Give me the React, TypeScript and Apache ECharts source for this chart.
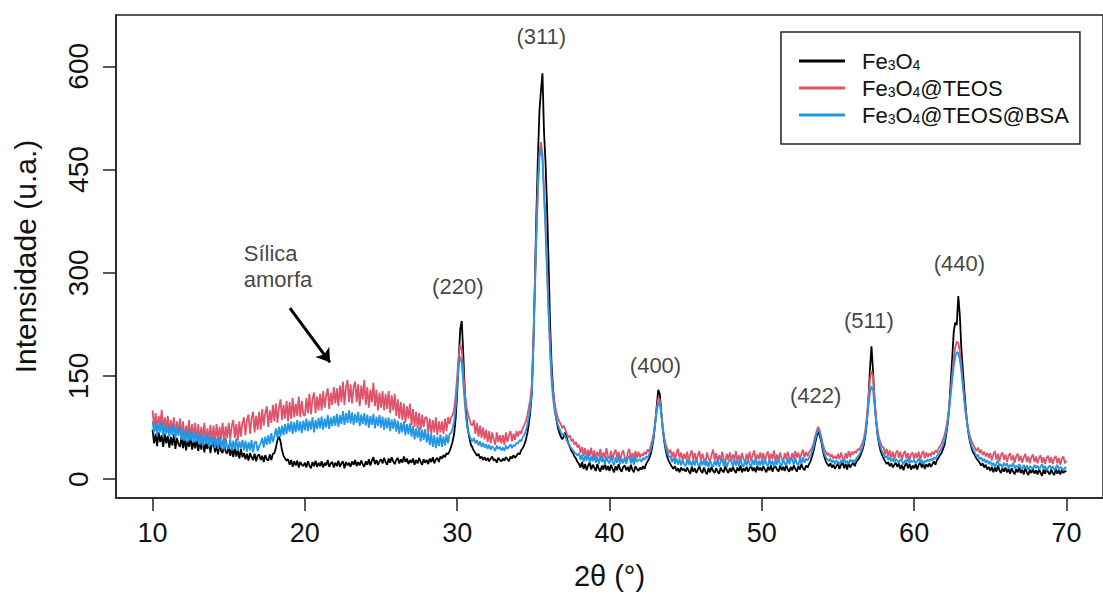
import React, { useEffect, useRef } from "react";
import * as echarts from "echarts";

// 2θ sampling grid: 10.0° to 70.0°, step 0.1°
const twoTheta: number[] = Array.from({ length: 601 }, (_, i) => Math.round((10 + i * 0.1) * 10) / 10);

// Fe3O4 (black)
const fe3o4: number[] = [
  72, 52, 66, 48, 68, 54, 64, 47, 66, 52,
  63, 46, 61, 49, 65, 44, 60, 51, 47, 62,
  45, 59, 42, 57, 47, 61, 43, 56, 45, 58,
  41, 55, 43, 58, 39, 53, 44, 56, 38, 52,
  54, 39, 50, 36, 53, 41, 38, 51, 40, 37,
  49, 34, 45, 32, 47, 33, 43, 30, 44, 32,
  38, 29, 37, 27, 38, 32, 28, 37, 26, 34,
  36, 28, 34, 25, 35, 29, 27, 36, 28, 37,
  38, 46, 57, 62, 55, 42, 34, 30, 27, 29,
  21, 28, 18, 26, 20, 27, 17, 25, 21, 19,
  24, 17, 26, 20, 16, 25, 19, 27, 18, 24,
  19, 26, 17, 24, 20, 28, 18, 23, 25, 17,
  24, 19, 27, 18, 23, 26, 16, 25, 20, 24,
  18, 26, 21, 28, 19, 25, 20, 27, 22, 18,
  26, 21, 29, 20, 27, 32, 22, 28, 21, 26,
  29, 23, 31, 25, 21, 30, 24, 32, 26, 22,
  28, 31, 23, 29, 24, 33, 25, 30, 22, 28,
  24, 30, 21, 28, 23, 31, 25, 21, 29, 24,
  28, 22, 30, 25, 32, 23, 29, 31, 25, 33,
  30, 35, 32, 38, 36, 41, 47, 55, 66, 88,
  125, 175, 218, 230, 182, 128, 93, 72, 60, 50,
  46, 41, 38, 34, 37, 30, 33, 28, 32, 27,
  31, 26, 30, 33, 27, 29, 24, 31, 28, 26,
  30, 27, 32, 29, 26, 33, 30, 35, 31, 34,
  38, 36, 42, 45, 50, 56, 66, 80, 98, 125,
  195, 285, 385, 468, 535, 565, 590, 505, 460, 395,
  315, 225, 165, 130, 106, 88, 76, 68, 62, 58,
  62, 68, 60, 52, 47, 41, 38, 33, 30, 25,
  22, 17, 25, 15, 22, 13, 20, 24, 14, 21,
  17, 12, 22, 15, 11, 20, 14, 23, 13, 19,
  12, 21, 15, 10, 19, 13, 22, 14, 11, 18,
  20, 13, 18, 11, 21, 14, 10, 19, 15, 12,
  17, 14, 19, 15, 22, 26, 30, 36, 46, 60,
  82, 106, 130, 124, 98, 72, 54, 41, 32, 26,
  22, 18, 15, 19, 12, 16, 10, 17, 13, 15,
  11, 17, 12, 8, 18, 11, 16, 9, 14, 19,
  12, 9, 17, 11, 7, 16, 10, 18, 12, 9,
  16, 11, 8, 17, 12, 10, 19, 13, 9, 16,
  11, 18, 13, 9, 17, 12, 20, 10, 16, 12,
  18, 11, 16, 20, 12, 17, 10, 19, 13, 17,
  12, 19, 14, 10, 18, 13, 20, 11, 17, 19,
  14, 11, 20, 13, 18, 12, 21, 14, 11, 18,
  13, 20, 15, 11, 19, 14, 22, 16, 13, 20,
  17, 22, 26, 33, 41, 52, 62, 69, 64, 55,
  43, 33, 26, 22, 19, 23, 17, 21, 15, 19,
  23, 15, 21, 25, 16, 22, 14, 24, 17, 21,
  24, 19, 25, 28, 31, 36, 42, 50, 64, 85,
  115, 160, 193, 158, 116, 86, 64, 50, 41, 35,
  30, 26, 22, 25, 19, 23, 17, 21, 24, 18,
  23, 15, 21, 13, 20, 24, 16, 22, 14, 20,
  16, 22, 14, 21, 25, 17, 23, 15, 22, 18,
  23, 18, 22, 26, 21, 28, 31, 35, 38, 44,
  50, 64, 80, 104, 140, 176, 214, 228, 224, 266,
  238, 190, 158, 128, 100, 78, 62, 51, 43, 38,
  34, 30, 27, 24, 20, 23, 17, 21, 14, 18,
  12, 18, 10, 17, 11, 20, 13, 9, 16, 11,
  17, 10, 15, 8, 16, 11, 7, 15, 10, 17,
  9, 14, 7, 16, 10, 6, 14, 9, 15, 8,
  13, 7, 15, 9, 5, 14, 8, 16, 10, 7,
  14, 9, 6, 15, 8, 13, 7, 14, 9, 12,
  11,
];

// Fe3O4@TEOS (red)
const fe3o4Teos: number[] = [
  100, 76, 96, 72, 92, 78, 101, 70, 90, 74,
  92, 66, 86, 70, 90, 64, 84, 68, 88, 62,
  84, 58, 78, 62, 86, 57, 80, 60, 82, 56,
  80, 55, 76, 58, 82, 54, 74, 57, 79, 53,
  78, 54, 80, 56, 76, 58, 82, 53, 77, 60,
  82, 58, 78, 86, 60, 80, 56, 84, 62, 81,
  90, 64, 86, 94, 66, 88, 98, 68, 92, 72,
  98, 72, 102, 78, 96, 106, 76, 100, 82, 108,
  84, 110, 82, 104, 116, 86, 108, 88, 114, 84,
  112, 88, 118, 90, 110, 92, 120, 90, 114, 94,
  92, 118, 96, 124, 94, 116, 126, 96, 120, 100,
  124, 100, 128, 104, 122, 132, 102, 126, 108, 134,
  110, 132, 106, 136, 112, 142, 108, 134, 144, 112,
  138, 110, 134, 142, 112, 138, 106, 136, 116, 144,
  108, 134, 104, 130, 112, 140, 106, 130, 100, 126,
  104, 128, 100, 124, 102, 128, 96, 122, 100, 124,
  92, 116, 88, 112, 86, 110, 82, 106, 88, 110,
  78, 102, 76, 98, 74, 96, 72, 94, 76, 90,
  90, 68, 88, 66, 86, 68, 90, 64, 84, 68,
  84, 66, 88, 70, 90, 80, 90, 93, 102, 122,
  150, 178, 196, 188, 158, 126, 106, 96, 88, 80,
  78, 86, 66, 82, 62, 78, 60, 75, 58, 72,
  54, 70, 52, 68, 58, 50, 68, 54, 64, 52,
  64, 50, 68, 54, 64, 70, 55, 66, 57, 70,
  62, 70, 66, 74, 78, 84, 92, 104, 116, 138,
  200, 280, 360, 430, 475, 490, 472, 420, 372, 310,
  250, 196, 152, 126, 110, 98, 90, 84, 80, 74,
  78, 72, 66, 60, 64, 55, 58, 50, 54, 46,
  50, 38, 47, 34, 45, 32, 43, 34, 46, 31,
  42, 29, 40, 33, 44, 28, 39, 31, 45, 33,
  30, 41, 28, 38, 43, 31, 40, 27, 37, 42,
  32, 26, 39, 44, 29, 38, 28, 41, 31, 40,
  31, 37, 34, 40, 36, 43, 40, 48, 56, 66,
  84, 102, 118, 116, 96, 76, 60, 50, 44, 38,
  43, 32, 40, 28, 38, 44, 30, 39, 27, 37,
  29, 40, 25, 36, 42, 28, 38, 26, 35, 41,
  27, 37, 29, 24, 39, 30, 26, 36, 43, 28,
  38, 25, 35, 27, 40, 29, 24, 37, 28, 39,
  26, 36, 28, 41, 25, 35, 27, 38, 29, 24,
  37, 28, 40, 26, 35, 42, 27, 36, 29, 39,
  28, 38, 25, 35, 40, 27, 37, 29, 42, 26,
  36, 27, 39, 30, 25, 38, 29, 40, 31, 28,
  38, 29, 41, 31, 39, 28, 37, 43, 32, 40,
  33, 39, 42, 46, 52, 62, 70, 76, 71, 62,
  52, 44, 40, 35, 38, 32, 36, 30, 34, 29,
  37, 29, 39, 31, 26, 38, 30, 41, 32, 40,
  36, 41, 38, 44, 42, 48, 52, 60, 72, 92,
  118, 145, 157, 150, 118, 90, 72, 60, 53, 47,
  46, 36, 44, 33, 42, 31, 40, 29, 38, 42,
  31, 40, 28, 37, 41, 30, 38, 27, 36, 39,
  29, 38, 31, 40, 28, 37, 41, 30, 39, 32,
  38, 33, 40, 36, 42, 39, 45, 48, 52, 58,
  64, 74, 88, 106, 128, 152, 176, 192, 200, 198,
  186, 164, 140, 116, 96, 80, 68, 60, 54, 49,
  45, 41, 46, 38, 43, 35, 40, 33, 38, 31,
  38, 27, 36, 41, 28, 37, 26, 35, 39, 28,
  36, 25, 34, 38, 27, 35, 24, 33, 37, 26,
  34, 24, 32, 37, 25, 33, 23, 32, 36, 25,
  33, 23, 31, 35, 24, 32, 22, 31, 34, 24,
  32, 22, 30, 34, 23, 31, 21, 30, 33, 23,
  27,
];

// Fe3O4@TEOS@BSA (blue)
const fe3o4TeosBsa: number[] = [
  84, 68, 82, 64, 80, 68, 84, 62, 78, 66,
  78, 61, 76, 64, 80, 59, 75, 63, 77, 57,
  72, 56, 70, 54, 72, 56, 68, 53, 69, 55,
  65, 50, 67, 48, 63, 51, 66, 47, 62, 50,
  61, 45, 59, 44, 62, 46, 58, 43, 60, 47,
  44, 58, 42, 56, 44, 59, 41, 55, 45, 57,
  42, 56, 40, 54, 42, 57, 39, 53, 55, 41,
  48, 52, 60, 46, 62, 50, 64, 51, 67, 54,
  62, 74, 60, 76, 62, 78, 64, 80, 66, 82,
  69, 84, 66, 83, 68, 86, 70, 84, 67, 85,
  71, 88, 70, 85, 72, 90, 68, 86, 73, 89,
  74, 91, 72, 88, 75, 93, 73, 90, 77, 92,
  78, 95, 76, 93, 80, 99, 79, 96, 82, 100,
  81, 97, 79, 95, 82, 98, 77, 94, 80, 96,
  78, 94, 75, 92, 79, 95, 74, 91, 77, 93,
  75, 91, 72, 89, 74, 90, 70, 87, 73, 88,
  69, 85, 66, 82, 68, 84, 64, 80, 65, 81,
  62, 77, 58, 74, 60, 75, 55, 72, 57, 73,
  53, 68, 50, 66, 47, 64, 45, 62, 48, 65,
  47, 62, 49, 65, 52, 66, 67, 74, 84, 104,
  135, 164, 178, 170, 140, 110, 86, 72, 64, 58,
  55, 60, 52, 57, 49, 55, 47, 53, 46, 51,
  44, 50, 43, 48, 45, 41, 49, 44, 47, 42,
  46, 41, 49, 44, 47, 51, 45, 50, 48, 53,
  52, 57, 55, 61, 64, 70, 78, 90, 104, 126,
  190, 270, 350, 420, 468, 482, 464, 414, 360, 300,
  240, 186, 142, 116, 99, 88, 80, 74, 69, 64,
  66, 62, 56, 52, 48, 45, 42, 39, 37, 34,
  38, 28, 36, 25, 34, 27, 37, 24, 33, 26,
  35, 24, 32, 22, 34, 25, 31, 21, 33, 26,
  23, 33, 25, 20, 32, 24, 34, 22, 30, 23,
  32, 22, 30, 34, 23, 31, 21, 33, 25, 28,
  29, 25, 31, 28, 33, 31, 36, 42, 50, 62,
  80, 98, 110, 112, 94, 72, 56, 45, 38, 33,
  33, 25, 31, 22, 30, 21, 29, 20, 28, 22,
  19, 29, 21, 27, 18, 28, 20, 30, 22, 19,
  27, 20, 29, 19, 26, 17, 28, 21, 18, 27,
  20, 28, 18, 26, 30, 19, 27, 17, 25, 28,
  26, 18, 29, 20, 27, 19, 30, 21, 18, 28,
  20, 29, 22, 18, 28, 21, 31, 19, 27, 20,
  28, 20, 30, 22, 19, 29, 21, 27, 18, 28,
  21, 30, 22, 19, 29, 23, 20, 31, 22, 28,
  29, 21, 31, 23, 20, 30, 22, 32, 24, 30,
  27, 31, 35, 40, 47, 57, 66, 72, 68, 58,
  47, 38, 32, 29, 26, 30, 24, 28, 22, 27,
  25, 21, 28, 24, 30, 23, 27, 22, 29, 25,
  28, 24, 30, 33, 36, 40, 46, 54, 66, 84,
  106, 126, 135, 130, 108, 84, 66, 54, 46, 40,
  36, 31, 34, 28, 32, 26, 30, 25, 29, 27,
  24, 29, 26, 22, 28, 25, 30, 23, 27, 25,
  28, 23, 26, 30, 24, 28, 22, 27, 25, 29,
  26, 30, 27, 32, 29, 34, 37, 41, 45, 50,
  57, 68, 82, 100, 122, 144, 164, 178, 185, 183,
  174, 157, 136, 113, 93, 77, 64, 54, 47, 42,
  38, 33, 36, 29, 32, 26, 30, 24, 28, 22,
  26, 20, 24, 18, 23, 27, 19, 22, 17, 24,
  19, 23, 16, 21, 18, 24, 15, 20, 17, 22,
  18, 14, 21, 16, 20, 13, 19, 17, 15, 21,
  16, 20, 14, 18, 22, 15, 19, 13, 17, 20,
  15, 19, 13, 17, 21, 14, 18, 16, 13, 17,
  16,
];

const seriesNames = ["Fe3O4", "Fe3O4@TEOS", "Fe3O4@TEOS@BSA"];
const seriesColors = ["#000000", "#DF536B", "#2297E6"];
const xTicks = [10, 20, 30, 40, 50, 60, 70];
const yTicks = [0, 150, 300, 450, 600];

// peak annotations: [2θ, intensity, label]
const peakLabelX = [30.04, 35.52, 43.02, 53.53, 57.03, 62.97];
const peakLabelY = [280, 643, 165, 122, 230, 313];
const peakLabels = ["(220)", "(311)", "(400)", "(422)", "(511)", "(440)"];

const amorphNote = "Sílica\namorfa";
const amorphNotePos = [15.99, 309];
const arrowFrom = [19.02, 248.7];
const arrowTo = [21.65, 169.8];

const FONT = "'Liberation Sans', Arial, sans-serif";

const legendRich: Record<string, string> = {
  "Fe3O4": "{g| }{n|Fe}{s|3}{n|O}{s|4}",
  "Fe3O4@TEOS": "{g| }{n|Fe}{s|3}{n|O}{s|4}{n|@TEOS}",
  "Fe3O4@TEOS@BSA": "{g| }{n|Fe}{s|3}{n|O}{s|4}{n|@TEOS@BSA}",
};

export default function App() {
  const ref = useRef<HTMLDivElement>(null);

  useEffect(() => {
    if (!ref.current) return;
    const chart = echarts.init(ref.current, null, { renderer: "svg" });
    const ys = [fe3o4, fe3o4Teos, fe3o4TeosBsa];

    const lineSeries = seriesNames.map((name, k) => ({
      name,
      type: "line",
      color: seriesColors[k],
      showSymbol: false,
      symbol: "none",
      lineStyle: { color: seriesColors[k], width: 1.8 },
      data: twoTheta.map((x, i) => [x, ys[k][i]]),
      z: 2 + k,
    }));

    const option: any = {
      animation: false,
      backgroundColor: "#ffffff",
      textStyle: { fontFamily: FONT },
      grid: {
        show: true,
        left: 116,
        top: 15,
        width: 998,
        height: 489,
        borderColor: "#222",
        borderWidth: 1.5,
        backgroundColor: "transparent",
      },
      legend: {
        show: true,
        orient: "vertical",
        left: 781,
        top: 32,
        padding: [18, 11, 18, 18],
        itemGap: 5,
        itemWidth: 46,
        itemHeight: 3,
        icon: "rect",
        borderColor: "#222",
        borderWidth: 1.5,
        backgroundColor: "#fff",
        data: seriesNames,
        formatter: (name: string) => legendRich[name] || name,
        textStyle: {
          fontFamily: FONT,
          color: "#111",
          fontSize: 22,
          rich: {
            g: { width: 12, fontSize: 22, lineHeight: 22 },
            n: { fontFamily: FONT, fontSize: 22, lineHeight: 22, color: "#111" },
            s: { fontFamily: FONT, fontSize: 14, lineHeight: 14, color: "#111", verticalAlign: "bottom" },
          },
        },
      },
      xAxis: {
        type: "value",
        min: 7.6,
        max: 72.4,
        name: "2θ (°)",
        nameLocation: "middle",
        nameGap: 63,
        nameTextStyle: { fontFamily: FONT, fontSize: 29, color: "#111" },
        axisLine: { show: true, onZero: false, lineStyle: { color: "#222", width: 1.5 } },
        axisTick: { show: true, inside: false, length: 13, customValues: xTicks, lineStyle: { color: "#222", width: 1.5 } },
        axisLabel: { show: true, customValues: xTicks, margin: 21, fontFamily: FONT, fontSize: 27, color: "#111" },
        splitLine: { show: false },
      },
      yAxis: {
        type: "value",
        min: -27.3,
        max: 674.6,
        name: "Intensidade (u.a.)",
        nameLocation: "middle",
        nameGap: 76,
        nameRotate: 90,
        nameTextStyle: { fontFamily: FONT, fontSize: 30, color: "#111" },
        axisLine: { show: true, onZero: false, lineStyle: { color: "#222", width: 1.5 } },
        axisTick: { show: true, inside: false, length: 13, customValues: yTicks, lineStyle: { color: "#222", width: 1.5 } },
        axisLabel: { show: true, customValues: yTicks, rotate: 90, margin: 24, fontFamily: FONT, fontSize: 28, color: "#111" },
        splitLine: { show: false },
      },
      series: [
        ...lineSeries,
        {
          name: "peaks",
          type: "scatter",
          symbolSize: 0,
          silent: true,
          z: 10,
          data: peakLabels.map((t, i) => ({ value: [peakLabelX[i], peakLabelY[i]], name: t })),
          label: {
            show: true,
            position: "inside",
            formatter: (p: any) => p.name,
            fontFamily: FONT,
            fontSize: 22,
            color: "#111",
          },
        },
        {
          name: "note",
          type: "scatter",
          symbolSize: 0,
          silent: true,
          z: 10,
          data: [{ value: amorphNotePos, name: amorphNote }],
          label: {
            show: true,
            position: "inside",
            align: "left",
            verticalAlign: "middle",
            formatter: (p: any) => p.name,
            fontFamily: FONT,
            fontSize: 22,
            lineHeight: 26,
            color: "#111",
          },
          markLine: {
            silent: true,
            symbol: ["none", "arrow"],
            symbolSize: 13,
            label: { show: false },
            lineStyle: { color: "#000", width: 3, type: "solid" },
            data: [[{ coord: arrowFrom }, { coord: arrowTo }]],
          },
        },
      ],
    };

    chart.setOption(option);
    return () => chart.dispose();
  }, []);

  return (
    <div
      ref={ref}
      style={{ position: "absolute", left: 0, top: 0, width: 1103, height: 595, background: "#fff" }}
    />
  );
}
